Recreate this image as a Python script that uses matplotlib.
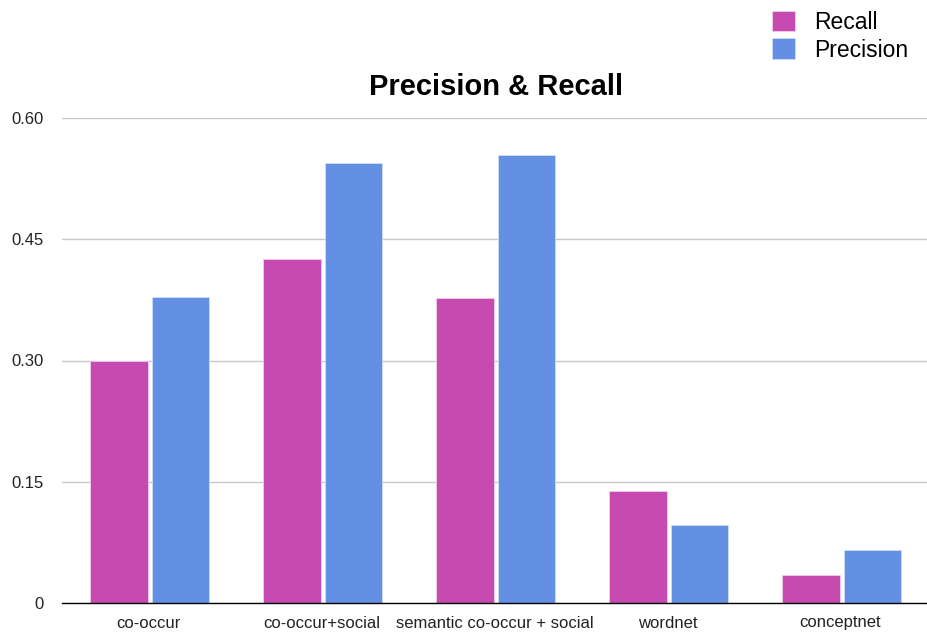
import matplotlib.pyplot as plt
import numpy as np

categories = ['co-occur', 'co-occur+social', 'semantic co-occur + social', 'wordnet', 'conceptnet']
recall = [0.300, 0.425, 0.377, 0.138, 0.035]
precision = [0.379, 0.544, 0.554, 0.097, 0.066]

plt.rcParams['font.family'] = ['Liberation Sans', 'DejaVu Sans']

fig = plt.figure(figsize=(9.27, 6.32), dpi=100)
ax = fig.add_axes([62 / 927, 1 - 603 / 632, 1 - 62 / 927, (603 - 118) / 632])

x = np.arange(len(categories))
w = 0.335
ax.bar(x - 0.172, recall, w, color='#C64AB0', edgecolor='#f0d0ea', linewidth=0.6, label='Recall', zorder=3)
ax.bar(x + 0.185, precision, w, color='#6490E3', edgecolor='#d0ddf5', linewidth=0.6, label='Precision', zorder=3)

ax.set_xlim(-0.5, 4.5)
ax.set_ylim(0, 0.6)
ax.set_yticks([0, 0.15, 0.30, 0.45, 0.60])
ax.set_yticklabels(['0', '0.15', '0.30', '0.45', '0.60'])
ax.set_xticks(x)
ax.set_xticklabels(categories)
ax.tick_params(axis='both', length=0, labelsize=12, colors='#222222')
ax.tick_params(axis='y', pad=13)
ax.tick_params(axis='x', pad=9)
ax.yaxis.grid(True, color='#c8c8c8', linewidth=1, zorder=0)
ax.set_axisbelow(True)
for s in ['top', 'right', 'left']:
    ax.spines[s].set_visible(False)
ax.spines['bottom'].set_color('black')
ax.spines['bottom'].set_linewidth(1)
ax.spines['bottom'].set_zorder(4)

fig.text(0.535, 1 - 87 / 632, 'Precision & Recall', ha='center', va='center',
         fontsize=21, fontweight='bold')

fig.legend(loc='upper right', bbox_to_anchor=(1.0, 1.012), frameon=False,
           fontsize=16.5, handlelength=1.0, handleheight=1.0, handletextpad=0.85,
           labelspacing=0.2, borderpad=0.3)

fig.savefig('out.png', dpi=100)
